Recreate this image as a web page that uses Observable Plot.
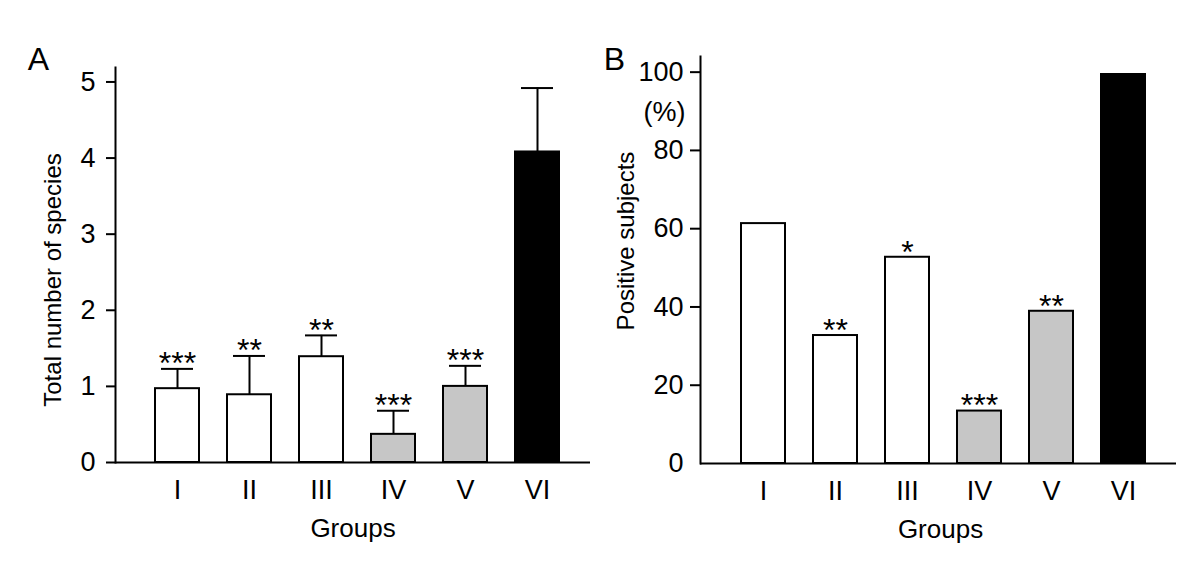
<!DOCTYPE html>
<html>
<head>
<meta charset="utf-8">
<script src="https://cdn.jsdelivr.net/npm/d3@7"></script>
<script src="https://cdn.jsdelivr.net/npm/@observablehq/plot@0.6"></script>
<style>
  html, body { margin: 0; padding: 0; background: white; }
  #wrap { display: flex; width: 1200px; height: 568px; }
</style>
</head>
<body>
<div id="wrap"></div>
<script>
const groups = ["I", "II", "III", "IV", "V", "VI"];
const groupFills = ["white", "white", "white", "#c6c6c6", "#c6c6c6", "black"];
const speciesMean = [0.97, 0.89, 1.39, 0.37, 1.00, 4.08];
const speciesSE = [0.26, 0.51, 0.28, 0.31, 0.27, 0.84];
const speciesStars = ["***", "**", "**", "***", "***", ""];
const positivePct = [61.3, 32.7, 52.7, 13.4, 38.9, 99.4];
const positiveStars = ["", "**", "*", "***", "**", ""];
const yTicksA = [0, 1, 2, 3, 4, 5];
const yTicksB = [0, 20, 40, 60, 80, 100];

const dataA = groups.map((g, i) => ({group: g, mean: speciesMean[i], upper: speciesMean[i] + speciesSE[i], stars: speciesStars[i], fill: groupFills[i]}));
const dataB = groups.map((g, i) => ({group: g, value: positivePct[i], stars: positiveStars[i], fill: groupFills[i]}));

const font = "'Liberation Sans', Arial, Helvetica, sans-serif";
const baseStyle = {fontFamily: font, fontSize: "26px", background: "white", color: "black", overflow: "visible"};
const tickFont = 27;
const titleFont = 24;
const groupsFont = 26;
const fmt = d => String(d);

const chartA = Plot.plot({
  width: 600, height: 568,
  marginLeft: 115, marginRight: 10, marginTop: 67, marginBottom: 106,
  style: baseStyle,
  x: {type: "band", domain: groups, range: [155, 559], paddingInner: 0.389, paddingOuter: 0, label: null},
  y: {domain: [0, 5.19], label: null},
  color: {type: "identity"},
  marks: [
    Plot.ruleX(dataA, {x: "group", y1: "mean", y2: "upper", stroke: "black", strokeWidth: 2}),
    Plot.tickY(dataA, {x: "group", y: "upper", insetLeft: 6, insetRight: 6, stroke: "black", strokeWidth: 2}),
    Plot.barY(dataA, {x: "group", y: "mean", fill: "fill", stroke: "black", strokeWidth: 2}),
    Plot.text(dataA, {x: "group", y: "upper", text: "stars", fontSize: 32, lineAnchor: "middle", dy: -5}),
    Plot.axisY({ticks: yTicksA, tickFormat: fmt, tickSize: 9, tickPadding: 11, strokeWidth: 2, fontSize: tickFont, label: null}),
    Plot.axisX({tickSize: 0, tickPadding: 17, fontSize: tickFont, label: null}),
    Plot.frame({anchor: "left", strokeWidth: 2}),
    Plot.ruleY([0], {stroke: "black", strokeWidth: 2}),
    Plot.text(["Total number of species"], {frameAnchor: "left", rotate: -90, dx: -62, dy: 15, fontSize: titleFont, textAnchor: "middle", lineAnchor: "middle"}),
    Plot.text(["Groups"], {frameAnchor: "bottom", dy: 66, fontSize: groupsFont, textAnchor: "middle", lineAnchor: "middle"}),
    Plot.text(["A"], {frameAnchor: "top-left", dx: -77, dy: -8, fontSize: 32, textAnchor: "middle", lineAnchor: "middle"})
  ]
});

const chartB = Plot.plot({
  width: 600, height: 568,
  marginLeft: 100, marginRight: 24, marginTop: 56, marginBottom: 105,
  style: baseStyle,
  x: {type: "band", domain: groups, range: [140, 546], paddingInner: 0.389, paddingOuter: 0, label: null},
  y: {domain: [0, 104], label: null},
  color: {type: "identity"},
  marks: [
    Plot.barY(dataB, {x: "group", y: "value", fill: "fill", stroke: "black", strokeWidth: 2}),
    Plot.text(dataB, {x: "group", y: "value", text: "stars", fontSize: 32, lineAnchor: "middle", dy: -5}),
    Plot.axisY({ticks: yTicksB, tickFormat: fmt, tickSize: 0, tickPadding: 17, fontSize: tickFont, label: null}),
    Plot.axisY({ticks: yTicksB.slice(1), tickSize: 10, tickFormat: () => "", strokeWidth: 2, label: null}),
    Plot.axisX({tickSize: 0, tickPadding: 17, fontSize: tickFont, label: null}),
    Plot.frame({anchor: "left", strokeWidth: 2}),
    Plot.ruleY([0], {stroke: "black", strokeWidth: 2}),
    Plot.text(["(%)"], {frameAnchor: "top-left", dx: -15, dy: 56, textAnchor: "end", fontSize: tickFont, lineAnchor: "middle"}),
    Plot.text(["Positive subjects"], {frameAnchor: "left", rotate: -90, dx: -74, dy: -19, fontSize: titleFont, textAnchor: "middle", lineAnchor: "middle"}),
    Plot.text(["Groups"], {frameAnchor: "bottom", dx: 2, dy: 66, fontSize: groupsFont, textAnchor: "middle", lineAnchor: "middle"}),
    Plot.text(["B"], {frameAnchor: "top-left", dx: -86, dy: 3, fontSize: 32, textAnchor: "middle", lineAnchor: "middle"})
  ]
});

const wrap = document.getElementById("wrap");
wrap.appendChild(chartA);
wrap.appendChild(chartB);
</script>
</body>
</html>
